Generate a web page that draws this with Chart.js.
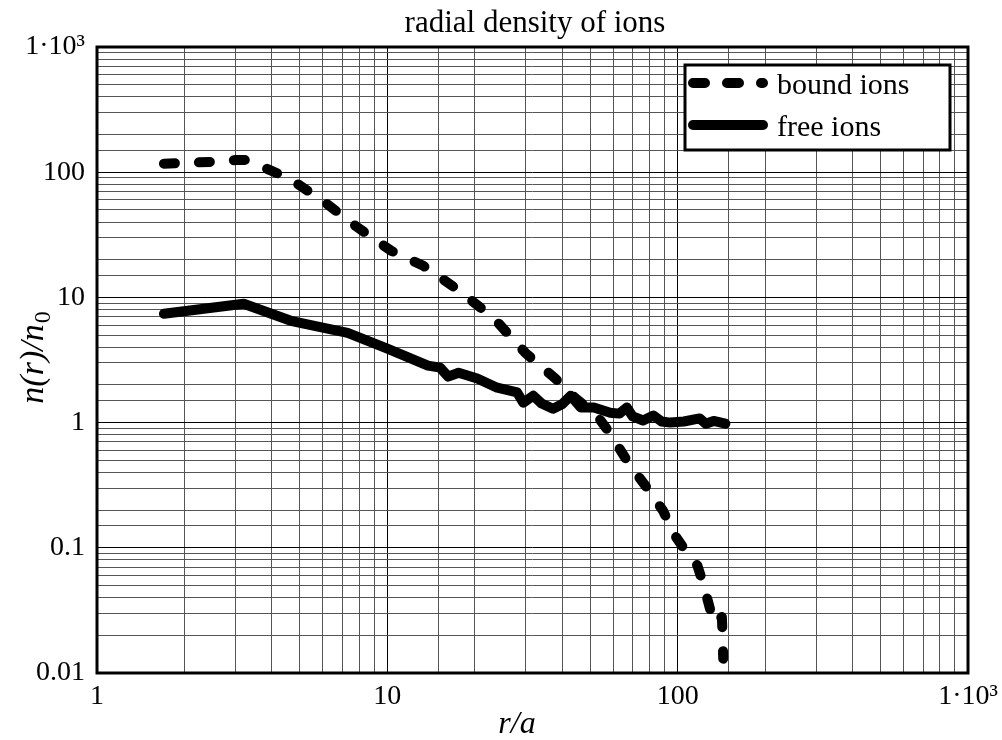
<!DOCTYPE html>
<html>
<head>
<meta charset="utf-8">
<title>radial density of ions</title>
<script src="https://cdn.jsdelivr.net/npm/chart.js@4.4.1/dist/chart.umd.min.js"></script>
<style>
  html, body { margin: 0; padding: 0; background: #fff; }
  #wrap { width: 1002px; height: 740px; }
</style>
</head>
<body>
<div id="wrap"><canvas id="ions_chart" width="1002" height="740"></canvas></div>
<script>
// data (r/a, n(r)/n0)
const boundR = [1.7, 2.5, 3.0, 3.25, 3.5, 4.6, 6.0, 7.8, 10.3, 13.3, 17.6, 23.3, 29.9, 37.9, 44, 52.7, 58.5, 67.5, 78.5, 89, 98, 108, 117, 123, 129, 133, 142, 143, 143.5];
const boundN = [117, 121, 125, 125, 117, 89, 59, 37, 23.6, 17.9, 11.4, 6.8, 3.6, 2.25, 1.6, 1.14, 0.82, 0.48, 0.30, 0.198, 0.125, 0.09, 0.072, 0.05, 0.033, 0.025, 0.028, 0.018, 0.013];

const freeR = [1.7, 3.2, 4.65, 7.3, 10.0, 13.8, 15.2, 16.2, 17.6, 20.4, 23.9, 28, 29.4, 31.8, 34, 37.2, 40, 42.8, 46.4, 51.4, 58.6, 63, 66.8, 70, 76, 82.5, 88, 94.4, 105, 119, 125, 133, 146];
const freeN = [7.4, 8.9, 6.5, 5.2, 3.9, 2.85, 2.75, 2.33, 2.5, 2.25, 1.9, 1.74, 1.44, 1.64, 1.42, 1.29, 1.4, 1.64, 1.32, 1.32, 1.2, 1.18, 1.32, 1.12, 1.04, 1.14, 1.02, 1.0, 1.02, 1.08, 0.98, 1.03, 0.98];

const xTickValues = [1, 10, 100, 1000];
const xTickLabels = ['1', '10', '100', '1·10³'];
const yTickValues = [0.01, 0.1, 1, 10, 100, 1000];
const yTickLabels = ['0.01', '0.1', '1', '10', '100', '1·10³'];

const seriesNames = ['bound ions', 'free ions'];
const chartTitle = 'radial density of ions';

const serif = "'Liberation Serif', 'Times New Roman', serif";

function toPoints(xs, ys) {
    return xs.map((x, i) => ({ x: x, y: ys[i] }));
}

function labelFor(values, labels) {
    return function(value) {
        for (let i = 0; i < values.length; i++) {
            if (Math.abs(value - values[i]) / values[i] < 1e-6) return labels[i];
        }
        return '';
    };
}

function isDecade(v) {
    const l = Math.log10(v);
    return Math.abs(l - Math.round(l)) < 1e-6;
}

function gridColor(ctx) {
    if (!ctx.tick) return '#555';
    return isDecade(ctx.tick.value) ? '#000' : '#555';
}

// frame, legend box, title and axis titles
const decorations = {
    id: 'decorations',
    afterDraw(chart) {
        const c = chart.ctx;
        const a = chart.chartArea;
        c.save();

        c.strokeStyle = '#000';
        c.lineWidth = 3;
        c.strokeRect(a.left, a.top, a.right - a.left, a.bottom - a.top);

        c.fillStyle = '#000';
        c.textBaseline = 'alphabetic';
        c.textAlign = 'center';
        c.font = '31px ' + serif;
        c.fillText(chartTitle, 535, 32);

        c.font = 'italic 32px ' + serif;
        c.fillText('r/a', 517, 733);

        // legend
        const lx = 685, ly = 65, lw = 265, lh = 85;
        c.fillStyle = '#fff';
        c.fillRect(lx, ly, lw, lh);
        c.lineWidth = 3;
        c.strokeRect(lx, ly, lw, lh);

        c.lineCap = 'round';
        c.lineWidth = 10;
        c.setLineDash([12, 22]);
        c.beginPath();
        c.moveTo(693, 83);
        c.lineTo(763, 83);
        c.stroke();
        c.setLineDash([]);
        c.beginPath();
        c.moveTo(693, 125);
        c.lineTo(763, 125);
        c.stroke();

        c.fillStyle = '#000';
        c.font = '30px ' + serif;
        c.textAlign = 'left';
        c.fillText(seriesNames[0], 777, 94);
        c.fillText(seriesNames[1], 777, 136);

        // y axis title n(r)/n0
        c.translate(43, 358);
        c.rotate(-Math.PI / 2);
        c.font = 'italic 34px ' + serif;
        const main = 'n(r)/n';
        const w1 = c.measureText(main).width;
        c.font = '24px ' + serif;
        const w2 = c.measureText('0').width;
        const start = -(w1 + w2) / 2;
        c.font = 'italic 34px ' + serif;
        c.fillText(main, start, 0);
        c.font = '24px ' + serif;
        c.fillText('0', start + w1 + 1, 7);

        c.restore();
    }
};

document.addEventListener('DOMContentLoaded', function() {
    const ctx = document.getElementById('ions_chart').getContext('2d');

    new Chart(ctx, {
        type: 'line',
        data: {
            datasets: [{
                label: seriesNames[0],
                data: toPoints(boundR, boundN),
                borderColor: '#000',
                borderWidth: 10,
                borderDash: [11, 24],
                borderCapStyle: 'round',
                borderJoinStyle: 'round',
                pointRadius: 0,
                tension: 0,
                fill: false
            }, {
                label: seriesNames[1],
                data: toPoints(freeR, freeN),
                borderColor: '#000',
                borderWidth: 10,
                borderCapStyle: 'round',
                borderJoinStyle: 'round',
                pointRadius: 0,
                tension: 0,
                fill: false
            }]
        },
        options: {
            responsive: false,
            animation: false,
            layout: { padding: { left: 0, right: 34, top: 47, bottom: 0 } },
            plugins: {
                legend: { display: false },
                tooltip: { enabled: false },
                title: { display: false }
            },
            scales: {
                x: {
                    type: 'logarithmic',
                    min: 1,
                    max: 1000,
                    afterFit: function(scale) {
                        scale.height = 67;
                        scale.paddingRight = 0;
                        scale.paddingLeft = 0;
                    },
                    grid: { color: gridColor, lineWidth: 1, drawTicks: false },
                    border: { display: false },
                    ticks: {
                        autoSkip: false,
                        maxRotation: 0,
                        padding: 7,
                        color: '#000',
                        font: { family: serif, size: 28 },
                        callback: labelFor(xTickValues, xTickLabels)
                    }
                },
                y: {
                    type: 'logarithmic',
                    min: 0.01,
                    max: 1000,
                    afterFit: function(scale) {
                        scale.width = 97;
                        scale.paddingTop = 0;
                        scale.paddingBottom = 0;
                    },
                    grid: { color: gridColor, lineWidth: 1, drawTicks: false },
                    border: { display: false },
                    ticks: {
                        autoSkip: false,
                        padding: 12,
                        color: '#000',
                        font: { family: serif, size: 28 },
                        callback: labelFor(yTickValues, yTickLabels)
                    }
                }
            }
        },
        plugins: [decorations]
    });
});
</script>
</body>
</html>
